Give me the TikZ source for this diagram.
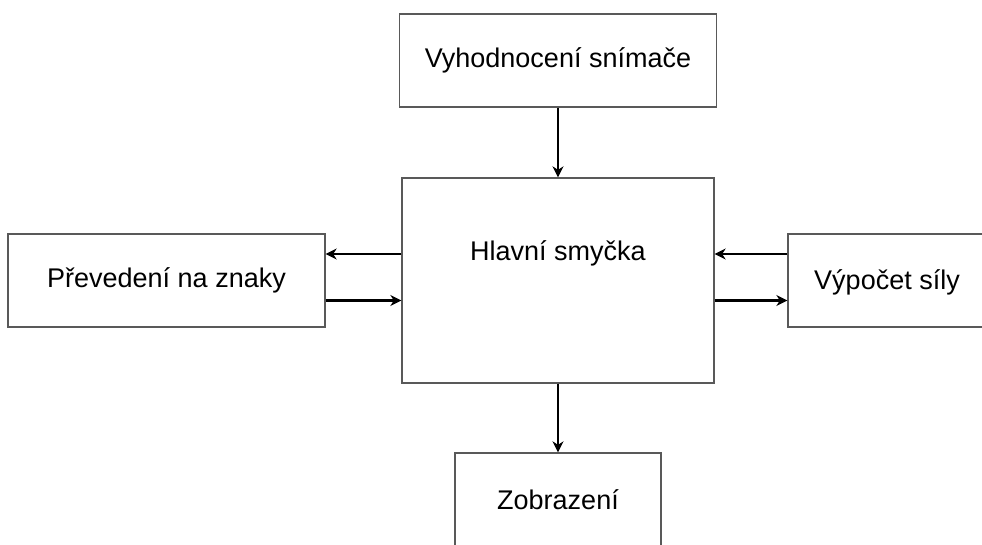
\documentclass[tikz,border=0pt]{standalone}
\usepackage{fontspec}
\setmainfont{Liberation Sans}
\usetikzlibrary{arrows.meta}
\begin{document}
\begin{tikzpicture}[x=1pt,y=-1pt,
  blk/.style={draw=black!65, line width=1.3pt, inner sep=0pt, fill=white,
    font=\fontsize{27}{32}\selectfont},
  txt/.style={inner sep=0pt, font=\fontsize{27}{32}\selectfont},
  arr/.style={line width=2.2pt, -{Stealth[length=11pt,width=11pt,inset=3.5pt]}}]
\useasboundingbox (0,0) rectangle (982,545);
\clip (0,0) rectangle (982,545);
\node[blk, minimum width=317pt, minimum height=93pt] (top) at (558,60.5) {Vyhodnocení snímače};
\node[blk, minimum width=312pt, minimum height=205pt] (main) at (558,280.5) {};
\node[txt] (maintxt) at (558,253) {Hlavní smyčka};
\node[blk, minimum width=317pt, minimum height=93pt] (left) at (166.5,280.5) {Převedení na znaky};
\node[blk, minimum width=317pt, minimum height=93pt] (right) at (946.5,280.5) {};
\node[txt] (righttxt) at (887,282) {Výpočet síly};
\node[blk, minimum width=206pt, minimum height=93pt] (bottom) at (558,499.5) {Zobrazení};
\coordinate (ya) at (0,254);
\coordinate (yb) at (0,300.5);
\draw[arr] (top.south) -- (main.north);
\draw[arr] (main.south) -- (bottom.north);
\draw[arr] (main.west |- ya) -- (left.east |- ya);
\draw[arr] (left.east |- yb) -- (main.west |- yb);
\draw[arr] (right.west |- ya) -- (main.east |- ya);
\draw[arr] (main.east |- yb) -- (right.west |- yb);
\end{tikzpicture}
\end{document}
